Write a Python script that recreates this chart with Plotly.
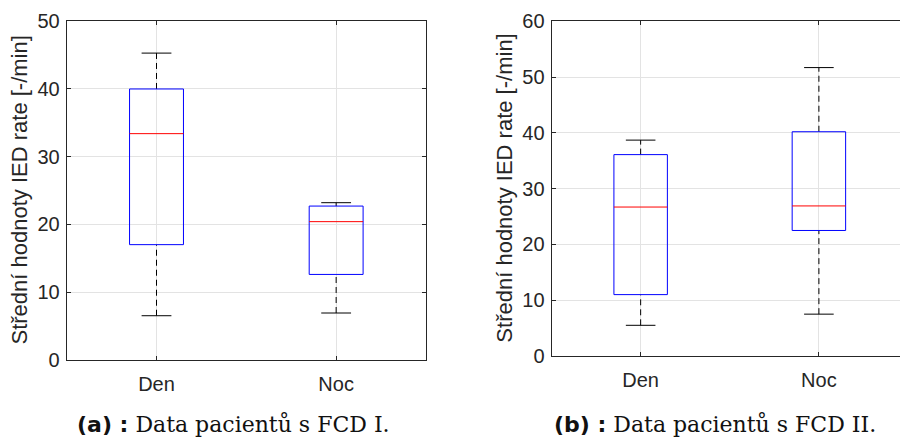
import plotly.graph_objects as go

categories = ["Den", "Noc"]

# Panel (a): FCD I
a_lower = [6.5, 6.9]
a_q1 = [17.0, 12.6]
a_median = [33.4, 20.4]
a_q3 = [40.0, 22.7]
a_upper = [45.3, 23.2]

# Panel (b): FCD II
b_lower = [5.5, 7.5]
b_q1 = [11.0, 22.5]
b_median = [26.7, 26.9]
b_q3 = [36.1, 40.2]
b_upper = [38.7, 51.7]

y_title = "Střední hodnoty IED rate [-/min]"
captions = ["(a) :", "(b) :"]
caption_texts = ["Data pacientů s FCD I.", "Data pacientů s FCD II."]

BOX_HW = 0.15
CAP_HW = 0.083
BLUE = "#0000FF"
RED = "#FF0000"
WHISK = "#000000"
AXC = "#262626"
GRID = "#e3e3e3"
SANS = "Liberation Sans, Arial, sans-serif"

fig = go.Figure()


def add_boxes(lo, q1, med, q3, hi, xa, ya):
    for i in range(len(categories)):
        x = i + 1
        common = dict(xaxis=xa, yaxis=ya, mode="lines", showlegend=False, hoverinfo="skip")
        # whiskers
        fig.add_trace(go.Scatter(x=[x, x], y=[q3[i], hi[i]], line=dict(color=WHISK, width=1, dash="6px,4px"), **common))
        fig.add_trace(go.Scatter(x=[x, x], y=[lo[i], q1[i]], line=dict(color=WHISK, width=1, dash="6px,4px"), **common))
        # caps
        fig.add_trace(go.Scatter(x=[x - CAP_HW, x + CAP_HW], y=[hi[i], hi[i]], line=dict(color=WHISK, width=1), **common))
        fig.add_trace(go.Scatter(x=[x - CAP_HW, x + CAP_HW], y=[lo[i], lo[i]], line=dict(color=WHISK, width=1), **common))
        # box
        fig.add_trace(go.Scatter(x=[x - BOX_HW, x + BOX_HW, x + BOX_HW, x - BOX_HW, x - BOX_HW],
                                 y=[q1[i], q1[i], q3[i], q3[i], q1[i]],
                                 line=dict(color=BLUE, width=1), **common))
        # median
        fig.add_trace(go.Scatter(x=[x - BOX_HW, x + BOX_HW], y=[med[i], med[i]], line=dict(color=RED, width=1), **common))


add_boxes(a_lower, a_q1, a_median, a_q3, a_upper, "x", "y")
add_boxes(b_lower, b_q1, b_median, b_q3, b_upper, "x2", "y2")

axis_common = dict(
    showline=True, linecolor=AXC, linewidth=1, automargin=False,
    ticks="inside", ticklen=4, tickcolor=AXC, tickwidth=1,
    showgrid=True, gridcolor=GRID, gridwidth=1, zeroline=False,
    tickfont=dict(family=SANS, size=20, color=AXC),
)

fig.update_layout(
    width=900, height=439,
    margin=dict(l=0, r=0, t=0, b=0, autoexpand=False),
    paper_bgcolor="white", plot_bgcolor="white",
    xaxis=dict(domain=[0.0741, 0.4733], range=[0.5, 2.5], tickvals=[1, 2], ticktext=categories,
               mirror="ticks", anchor="y", ticklabelstandoff=6, **axis_common),
    yaxis=dict(domain=[0.1806, 0.9515], range=[0, 50], tickvals=[0, 10, 20, 30, 40, 50],
               mirror="ticks", anchor="x", ticklabelstandoff=2, **axis_common),
    xaxis2=dict(domain=[0.6128, 1.0], range=[0.5, 2.455], tickvals=[1, 2], ticktext=categories,
                mirror="ticks", anchor="y2", ticklabelstandoff=6, **axis_common),
    yaxis2=dict(domain=[0.1891, 0.9515], range=[0, 60], tickvals=[0, 10, 20, 30, 40, 50, 60],
                mirror=False, anchor="x2", ticklabelstandoff=2, **axis_common),
)

# y-axis titles
for xpos, ydom in [(20 / 900, (0.1806 + 0.9515) / 2), (505 / 900, (0.1891 + 0.9515) / 2)]:
    fig.add_annotation(x=xpos, y=ydom, xref="paper", yref="paper", text=y_title, textangle=-90,
                       showarrow=False, font=dict(family=SANS, size=22, color=AXC),
                       xanchor="center", yanchor="middle")

# captions
for xc, lab, txt in [(233.5 / 900, captions[0], caption_texts[0]), (715 / 900, captions[1], caption_texts[1])]:
    fig.add_annotation(
        x=xc, y=1 / 439, xref="paper", yref="paper",
        text=f"<span style='font-family:DejaVu Sans, sans-serif'><b>{lab}</b></span> {txt}",
        showarrow=False, font=dict(family="DejaVu Serif, serif", size=22, color="#111111"),
        xanchor="center", yanchor="bottom", borderpad=0)

fig.write_html("out.html")
